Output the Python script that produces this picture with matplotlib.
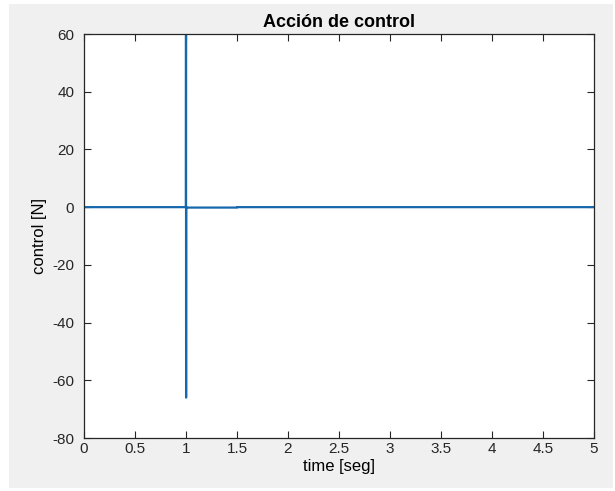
import matplotlib
matplotlib.use("Agg")
import matplotlib.pyplot as plt
from matplotlib.patches import Rectangle

# control signal: flat at zero, a short impulse at t = 1 s
time_s = [0.0, 0.999, 1.0, 1.001, 1.002, 1.003, 1.5, 1.501, 5.0]
control_n = [0.0, 0.0, 59.5, -66.0, 0.0, -0.15, -0.15, 0.0, 0.0]

x_ticks = [0, 0.5, 1, 1.5, 2, 2.5, 3, 3.5, 4, 4.5, 5]
x_labels = ["0", "0.5", "1", "1.5", "2", "2.5", "3", "3.5", "4", "4.5", "5"]
y_ticks = [-80, -60, -40, -20, 0, 20, 40, 60]

plt.rcParams["font.family"] = ["Liberation Sans", "DejaVu Sans"]
plt.rcParams["axes.unicode_minus"] = False

W, H = 615, 491
fig = plt.figure(figsize=(W / 100, H / 100), dpi=100, facecolor="white")
# grey figure panel with thin white margin
fig.patches.append(Rectangle((9 / W, 1 - 488 / H), (613 - 9) / W, (488 - 4) / H,
                             transform=fig.transFigure, facecolor="#f0f0f0",
                             edgecolor="none", zorder=-10))

ax = fig.add_axes([84 / W, 1 - 438 / H, (594 - 84) / W, (438 - 34) / H])
ax.set_facecolor("white")
ax.plot(time_s, control_n, color="#1668ad", lw=1.6)

ax.set_xlim(0, 5)
ax.set_ylim(-80, 60)
ax.set_xticks(x_ticks)
ax.set_xticklabels(x_labels)
ax.set_yticks(y_ticks)
ax.tick_params(direction="in", length=5, width=0.8, top=True, right=True,
               labelsize=11, colors="#262626")
ax.tick_params(axis="x", pad=3)
ax.tick_params(axis="y", pad=7)
for sp in ax.spines.values():
    sp.set_color("#262626")
    sp.set_linewidth(0.9)

ax.set_title("Acción de control", fontsize=13, fontweight="bold", pad=5)
ax.set_xlabel("time [seg]", fontsize=12, labelpad=2)
ax.set_ylabel("control [N]", fontsize=12, labelpad=4)

fig.savefig("out.png", dpi=100, facecolor=fig.get_facecolor())
